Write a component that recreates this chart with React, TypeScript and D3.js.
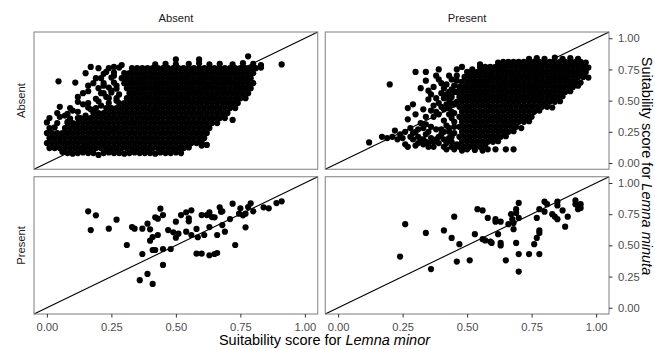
import React, { useEffect, useRef } from 'react';
import * as d3 from 'd3';

type Pt = [number, number];

// facet labels (columns across the top, rows down the left side)
const colLabels = ['Absent', 'Present'];
const rowLabels = ['Absent', 'Present'];
const scoreTicks = [0, 0.25, 0.5, 0.75, 1];

// [Lemna minor score, Lemna minuta score]
const absentAbsent: Pt[] = [
  [.06,.09],[.08,.08],[.10,.075],[.12,.08],[.14,.085],[.16,.08],[.18,.08],[.20,.065],[.22,.08],[.24,.085],[.26,.08],[.28,.08],[.30,.075],[.32,.08],[.34,.085],[.36,.08],[.38,.08],[.40,.08],[.42,.075],[.44,.085],[.46,.08],[.48,.08],[.50,.085],[.52,.08],
  [.01,.12],[.03,.12],[.05,.12],[.07,.12],[.09,.12],[.11,.12],[.13,.12],[.15,.12],[.17,.12],[.19,.12],[.21,.12],[.23,.12],[.25,.12],[.27,.12],[.29,.12],[.31,.12],[.33,.12],[.35,.12],[.37,.12],[.39,.12],[.41,.12],[.43,.12],[.45,.12],[.47,.12],[.49,.12],[.51,.12],[.53,.12],[.55,.125],[.60,.14],[.62,.145],
  [.00,.16],[.02,.16],[.04,.16],[.06,.16],[.08,.16],[.10,.16],[.12,.16],[.14,.16],[.16,.16],[.18,.16],[.20,.16],[.22,.16],[.24,.16],[.26,.16],[.28,.16],[.30,.16],[.32,.16],[.34,.16],[.36,.16],[.38,.16],[.40,.16],[.42,.16],[.44,.16],[.46,.16],[.48,.16],[.50,.16],[.52,.16],[.54,.16],[.56,.16],[.58,.16],[.60,.165],
  [.01,.20],[.03,.20],[.05,.20],[.07,.20],[.09,.20],[.11,.20],[.13,.20],[.15,.20],[.17,.20],[.19,.20],[.21,.20],[.23,.20],[.25,.20],[.27,.20],[.29,.20],[.31,.20],[.33,.20],[.35,.20],[.37,.20],[.39,.20],[.41,.20],[.43,.20],[.45,.20],[.47,.20],[.49,.20],[.51,.20],[.53,.20],[.55,.20],[.57,.20],[.59,.20],[.61,.20],
  [.00,.24],[.02,.24],[.04,.24],[.06,.24],[.08,.24],[.10,.24],[.12,.24],[.14,.24],[.16,.24],[.18,.24],[.20,.24],[.22,.24],[.24,.24],[.26,.24],[.28,.24],[.30,.24],[.32,.24],[.34,.24],[.36,.24],[.38,.24],[.40,.24],[.42,.24],[.44,.24],[.46,.24],[.48,.24],[.50,.24],[.52,.24],[.54,.24],[.56,.24],[.58,.24],[.60,.24],[.62,.24],
  [.01,.28],[.03,.285],[.07,.28],[.09,.28],[.11,.28],[.13,.28],[.15,.28],[.17,.28],[.19,.28],[.21,.28],[.23,.28],[.25,.28],[.27,.28],[.29,.28],[.31,.28],[.33,.28],[.35,.28],[.37,.28],[.39,.28],[.41,.28],[.43,.28],[.45,.28],[.47,.28],[.49,.28],[.51,.28],[.53,.28],[.55,.28],[.57,.28],[.59,.28],[.61,.28],[.63,.28],
  [.00,.325],[.04,.32],[.08,.32],[.10,.32],[.12,.32],[.14,.32],[.16,.32],[.18,.32],[.20,.32],[.22,.32],[.24,.32],[.26,.32],[.28,.32],[.30,.32],[.32,.32],[.34,.32],[.36,.32],[.38,.32],[.40,.32],[.42,.32],[.44,.32],[.46,.32],[.48,.32],[.50,.32],[.52,.32],[.54,.32],[.56,.32],[.58,.32],[.60,.32],[.62,.32],[.64,.32],[.66,.32],
  [.01,.36],[.05,.37],[.09,.355],[.13,.36],[.15,.36],[.17,.36],[.19,.36],[.21,.36],[.23,.36],[.25,.36],[.27,.36],[.29,.36],[.31,.36],[.33,.36],[.35,.36],[.37,.36],[.39,.36],[.41,.36],[.43,.36],[.45,.36],[.47,.36],[.49,.36],[.51,.36],[.53,.36],[.55,.36],[.57,.36],[.59,.36],[.61,.36],[.63,.36],[.65,.36],[.67,.36],[.69,.36],[.72,.345],
  [.04,.40],[.08,.395],[.12,.41],[.18,.40],[.20,.40],[.22,.40],[.24,.40],[.26,.40],[.28,.40],[.30,.40],[.32,.40],[.34,.40],[.36,.40],[.38,.40],[.40,.40],[.42,.40],[.44,.40],[.46,.40],[.48,.40],[.50,.40],[.52,.40],[.54,.40],[.56,.40],[.58,.40],[.60,.40],[.62,.40],[.64,.40],[.66,.40],[.68,.40],[.70,.40],
  [.05,.45],[.09,.44],[.16,.445],[.19,.44],[.23,.44],[.25,.44],[.27,.44],[.29,.44],[.31,.44],[.33,.44],[.35,.44],[.37,.44],[.39,.44],[.41,.44],[.43,.44],[.45,.44],[.47,.44],[.49,.44],[.51,.44],[.53,.44],[.55,.44],[.57,.44],[.59,.44],[.61,.44],[.63,.44],[.65,.44],[.67,.44],[.69,.44],[.71,.44],[.73,.44],
  [.12,.49],[.16,.48],[.20,.495],[.24,.48],[.28,.48],[.30,.48],[.32,.48],[.34,.48],[.36,.48],[.38,.48],[.40,.48],[.42,.48],[.44,.48],[.46,.48],[.48,.48],[.50,.48],[.52,.48],[.54,.48],[.56,.48],[.58,.48],[.60,.48],[.62,.48],[.64,.48],[.66,.48],[.68,.48],[.70,.48],[.72,.48],[.74,.48],
  [.12,.53],[.19,.515],[.23,.53],[.27,.52],[.31,.52],[.33,.52],[.35,.52],[.37,.52],[.39,.52],[.41,.52],[.43,.52],[.45,.52],[.47,.52],[.49,.52],[.51,.52],[.53,.52],[.55,.52],[.57,.52],[.59,.52],[.61,.52],[.63,.52],[.65,.52],[.67,.52],[.69,.52],[.71,.52],[.73,.52],[.75,.52],[.77,.52],
  [.16,.575],[.21,.56],[.25,.565],[.28,.55],[.32,.56],[.34,.56],[.36,.56],[.38,.56],[.40,.56],[.42,.56],[.44,.56],[.46,.56],[.48,.56],[.50,.56],[.52,.56],[.54,.56],[.56,.56],[.58,.56],[.60,.56],[.62,.56],[.64,.56],[.66,.56],[.68,.56],[.70,.56],[.72,.56],[.74,.56],[.76,.56],[.78,.56],
  [.16,.62],[.24,.605],[.27,.595],[.31,.60],[.33,.60],[.35,.60],[.37,.60],[.39,.60],[.41,.60],[.43,.60],[.45,.60],[.47,.60],[.49,.60],[.51,.60],[.53,.60],[.55,.60],[.57,.60],[.59,.60],[.61,.60],[.63,.60],[.65,.60],[.67,.60],[.69,.60],[.71,.60],[.73,.60],[.75,.60],[.77,.60],[.79,.60],
  [.11,.645],[.22,.64],[.26,.645],[.30,.64],[.32,.64],[.34,.64],[.36,.64],[.38,.64],[.40,.64],[.42,.64],[.44,.64],[.46,.64],[.48,.64],[.50,.64],[.52,.64],[.54,.64],[.56,.64],[.58,.64],[.60,.64],[.62,.64],[.64,.64],[.66,.64],[.68,.64],[.70,.64],[.72,.64],[.74,.64],[.76,.64],[.78,.64],[.80,.64],
  [.045,.655],[.21,.68],[.25,.685],[.29,.68],[.31,.68],[.33,.68],[.35,.68],[.37,.68],[.39,.68],[.41,.68],[.43,.68],[.45,.68],[.47,.68],[.49,.68],[.51,.68],[.53,.68],[.55,.68],[.57,.68],[.59,.68],[.61,.68],[.63,.68],[.65,.68],[.67,.68],[.69,.68],[.71,.68],[.73,.68],[.75,.68],[.77,.68],[.79,.68],
  [.15,.72],[.22,.715],[.26,.725],[.30,.72],[.32,.72],[.34,.72],[.36,.72],[.38,.72],[.40,.72],[.42,.72],[.44,.72],[.46,.72],[.48,.72],[.50,.72],[.52,.72],[.54,.72],[.56,.72],[.58,.72],[.60,.72],[.62,.72],[.64,.72],[.66,.72],[.68,.72],[.70,.72],[.72,.72],[.74,.72],[.76,.72],[.78,.72],[.80,.72],
  [.17,.77],[.24,.76],[.28,.765],[.33,.76],[.35,.76],[.37,.76],[.39,.76],[.41,.76],[.43,.76],[.45,.76],[.47,.76],[.49,.76],[.51,.76],[.53,.76],[.55,.76],[.57,.76],[.59,.76],[.61,.76],[.63,.76],[.65,.76],[.67,.76],[.69,.76],[.71,.76],[.73,.76],[.75,.76],[.77,.76],[.79,.76],[.81,.76],[.83,.765],
  [.42,.79],[.46,.795],[.50,.79],[.55,.795],[.59,.80],[.63,.79],[.67,.795],[.72,.79],[.76,.80],[.80,.795],[.83,.785],[.91,.79],
  [.50,.83],[.59,.83],[.78,.855],
  [.20,.60],[.22,.56],[.18,.64],[.26,.70],[.23,.73],[.20,.76],[.27,.50],[.14,.47],[.10,.42],[.07,.38],[.12,.36],[.17,.43],
  [.21,.46],[.25,.58],[.19,.68],[.27,.62],[.14,.56],[.08,.33],[.11,.30],[.15,.38],[.24,.52],[.26,.77],[.29,.785],[.22,.62],
];

const absentPresent: Pt[] = [
  [.12,.165],[.20,.63],[.17,.21],[.19,.20],[.21,.21],[.22,.26],[.23,.19],[.24,.23],[.26,.25],[.26,.15],[.27,.13],[.28,.21],[.27,.35],[.27,.44],[.28,.28],[.30,.25],[.31,.21],[.32,.19],[.31,.16],[.33,.15],[.34,.17],[.36,.20],[.37,.17],[.37,.13],[.39,.21],[.39,.16],[.41,.19],[.41,.13],[.34,.23],[.35,.25],[.34,.31],[.32,.32],[.34,.37],[.37,.37],[.38,.41],[.39,.39],[.37,.46],[.35,.51],[.39,.48],[.41,.43],[.43,.51],[.32,.60],[.34,.66],[.35,.58],[.37,.61],[.39,.67],[.40,.56],[.42,.63],[.44,.59],[.44,.67],[.30,.73],[.34,.73],[.39,.75],[.46,.75],[.48,.77],[.52,.75],[.55,.79],[.44,.36],[.45,.29],[.43,.25],[.45,.24],[.44,.17],[.50,.11],[.46,.15],[.58,.11],[.61,.11],[.65,.11],[.68,.11],[.43,.20],[.42,.30],[.41,.34],[.43,.44],[.42,.55],[.45,.40],[.44,.48],[.46,.66],
  [.45,.33],[.44,.41],[.45,.47],[.44,.53],[.45,.57],[.45,.62],[.46,.70],[.43,.39],[.42,.47],[.41,.52],[.43,.57],[.41,.60],[.40,.64],[.38,.70],[.43,.70],[.36,.55],[.38,.52],[.40,.45],[.36,.42],[.33,.43],[.30,.39],[.29,.47],
  [.29,.19],[.30,.14],[.33,.19],[.35,.16],[.38,.19],[.40,.23],[.42,.16],[.44,.13],[.38,.27],[.36,.29],[.40,.27],[.31,.27],[.25,.20],[.29,.24],[.33,.28],[.43,.28],[.41,.25],[.44,.21],[.35,.13],[.42,.11],[.45,.11],[.48,.10],[.53,.105],[.56,.10],
  [.47,.13],[.49,.13],[.51,.13],[.53,.13],[.55,.13],[.57,.135],
  [.48,.17],[.50,.17],[.52,.17],[.54,.17],[.56,.17],[.58,.17],[.60,.17],[.62,.175],
  [.47,.21],[.49,.21],[.51,.21],[.53,.21],[.55,.21],[.57,.21],[.59,.21],[.61,.21],[.63,.21],[.65,.215],
  [.48,.25],[.50,.25],[.52,.25],[.54,.25],[.56,.25],[.58,.25],[.60,.25],[.62,.25],[.64,.25],[.66,.25],[.68,.255],
  [.47,.29],[.49,.29],[.51,.29],[.53,.29],[.55,.29],[.57,.29],[.59,.29],[.61,.29],[.63,.29],[.65,.29],[.67,.29],[.69,.29],[.71,.28],
  [.48,.33],[.50,.33],[.52,.33],[.54,.33],[.56,.33],[.58,.33],[.60,.33],[.62,.33],[.64,.33],[.66,.33],[.68,.33],[.70,.33],[.72,.33],[.74,.335],
  [.47,.37],[.49,.37],[.51,.37],[.53,.37],[.55,.37],[.57,.37],[.59,.37],[.61,.37],[.63,.37],[.65,.37],[.67,.37],[.69,.37],[.71,.37],[.73,.37],[.75,.37],
  [.48,.41],[.50,.41],[.52,.41],[.54,.41],[.56,.41],[.58,.41],[.60,.41],[.62,.41],[.64,.41],[.66,.41],[.68,.41],[.70,.41],[.72,.41],[.74,.41],[.76,.41],[.78,.42],
  [.47,.45],[.49,.45],[.51,.45],[.53,.45],[.55,.45],[.57,.45],[.59,.45],[.61,.45],[.63,.45],[.65,.45],[.67,.45],[.69,.45],[.71,.45],[.73,.45],[.75,.45],[.77,.45],[.79,.45],[.81,.45],[.83,.445],
  [.46,.49],[.48,.49],[.50,.49],[.52,.49],[.54,.49],[.56,.49],[.58,.49],[.60,.49],[.62,.49],[.64,.49],[.66,.49],[.68,.49],[.70,.49],[.72,.49],[.74,.49],[.76,.49],[.78,.49],[.80,.49],[.82,.49],[.84,.49],[.86,.495],
  [.47,.53],[.49,.53],[.51,.53],[.53,.53],[.55,.53],[.57,.53],[.59,.53],[.61,.53],[.63,.53],[.65,.53],[.67,.53],[.69,.53],[.71,.53],[.73,.53],[.75,.53],[.77,.53],[.79,.53],[.81,.53],[.83,.53],[.85,.53],[.87,.535],
  [.46,.57],[.48,.57],[.50,.57],[.52,.57],[.54,.57],[.56,.57],[.58,.57],[.60,.57],[.62,.57],[.64,.57],[.66,.57],[.68,.57],[.70,.57],[.72,.57],[.74,.57],[.76,.57],[.78,.57],[.80,.57],[.82,.57],[.84,.57],[.86,.57],[.88,.57],[.90,.575],
  [.47,.61],[.49,.61],[.51,.61],[.53,.61],[.55,.61],[.57,.61],[.59,.61],[.61,.61],[.63,.61],[.65,.61],[.67,.61],[.69,.61],[.71,.61],[.73,.61],[.75,.61],[.77,.61],[.79,.61],[.81,.61],[.83,.61],[.85,.61],[.87,.61],[.89,.61],[.91,.61],[.93,.62],
  [.48,.65],[.50,.65],[.52,.65],[.54,.65],[.56,.65],[.58,.65],[.60,.65],[.62,.65],[.64,.65],[.66,.65],[.68,.65],[.70,.65],[.72,.65],[.74,.65],[.76,.65],[.78,.65],[.80,.65],[.82,.65],[.84,.65],[.86,.65],[.88,.65],[.90,.65],[.92,.65],[.94,.645],
  [.49,.69],[.51,.69],[.53,.69],[.55,.69],[.57,.69],[.59,.69],[.61,.69],[.63,.69],[.65,.69],[.67,.69],[.69,.69],[.71,.69],[.73,.69],[.75,.69],[.77,.69],[.79,.69],[.81,.69],[.83,.69],[.85,.69],[.87,.69],[.89,.69],[.91,.69],[.93,.69],[.95,.69],[.97,.685],
  [.50,.73],[.52,.73],[.54,.73],[.56,.73],[.58,.73],[.60,.73],[.62,.73],[.64,.73],[.66,.73],[.68,.73],[.70,.73],[.72,.73],[.74,.73],[.76,.73],[.78,.73],[.80,.73],[.82,.73],[.84,.73],[.86,.73],[.88,.73],[.90,.73],[.92,.73],[.94,.73],[.96,.73],
  [.55,.77],[.57,.77],[.59,.77],[.61,.77],[.63,.77],[.65,.77],[.67,.77],[.69,.77],[.71,.77],[.73,.77],[.75,.77],[.77,.77],[.79,.77],[.81,.77],[.83,.77],[.85,.77],[.87,.77],[.89,.77],[.91,.77],[.93,.77],[.95,.77],[.97,.765],
  [.62,.805],[.64,.81],[.66,.81],[.68,.81],[.70,.81],[.72,.81],[.74,.81],[.76,.81],[.78,.81],[.80,.81],[.82,.81],[.84,.81],[.86,.81],[.88,.81],[.90,.81],[.92,.81],[.94,.81],[.96,.805],
  [.74,.835],[.77,.84],[.80,.835],[.84,.845],[.87,.835],[.90,.84],[.93,.835],
];

const presentAbsent: Pt[] = [
  [.16,.773],[.19,.741],[.17,.623],[.24,.634],[.27,.706],[.31,.503],[.33,.647],[.34,.634],[.37,.634],[.37,.431],
  [.36,.221],[.39,.674],[.39,.271],[.40,.629],[.40,.538],[.41,.567],[.41,.191],[.41,.463],[.42,.463],[.43,.583],
  [.42,.725],[.43,.714],[.44,.794],[.45,.743],[.45,.471],[.45,.343],[.47,.623],[.48,.471],[.49,.605],[.50,.69],
  [.50,.562],[.51,.594],[.52,.743],[.54,.765],[.54,.61],[.55,.717],[.55,.693],[.56,.781],[.56,.583],[.58,.632],
  [.58,.434],[.585,.565],[.60,.434],[.60,.743],[.61,.583],[.62,.743],[.63,.765],[.63,.647],[.64,.727],[.65,.725],
  [.63,.421],[.65,.431],[.66,.439],[.66,.583],[.67,.805],[.675,.77],[.68,.773],[.68,.663],[.69,.61],[.71,.711],
  [.72,.834],[.73,.503],[.745,.754],[.75,.797],[.76,.741],[.77,.754],[.77,.645],[.78,.807],[.79,.837],[.80,.773],
  [.84,.805],[.86,.797],[.89,.839],[.91,.853],
];

const presentPresent: Pt[] = [
  [.24,.41],[.26,.67],[.34,.60],[.36,.31],[.41,.62],[.44,.56],[.45,.73],[.46,.37],[.47,.51],[.51,.38],
  [.53,.59],[.54,.79],[.56,.78],[.56,.55],[.57,.54],[.58,.72],[.59,.53],[.595,.52],[.61,.71],[.61,.69],
  [.62,.59],[.63,.69],[.63,.52],[.63,.50],[.65,.38],[.66,.67],[.67,.75],[.675,.71],[.68,.68],[.68,.63],
  [.69,.52],[.69,.79],[.70,.72],[.70,.84],[.70,.43],[.70,.29],[.74,.43],[.76,.51],[.77,.56],[.77,.72],
  [.78,.79],[.78,.60],[.78,.43],[.78,.62],[.80,.77],[.80,.85],[.81,.83],[.83,.75],[.84,.73],[.85,.85],
  [.85,.82],[.85,.71],[.87,.78],[.88,.65],[.89,.73],[.92,.83],[.92,.86],[.93,.82],[.94,.80],[.94,.83],
  [.93,.79],[.69,.76],
];

const panels = [
  { row: 0, col: 0, pts: absentAbsent },
  { row: 0, col: 1, pts: absentPresent },
  { row: 1, col: 0, pts: presentAbsent },
  { row: 1, col: 1, pts: presentPresent },
];

const App = () => {
  const ref = useRef<SVGSVGElement>(null);

  useEffect(() => {
    if (!ref.current) return;
    const svg = d3.select(ref.current);
    svg.selectAll('*').remove();

    const W = 655, H = 349;
    const margin = { top: 32, right: 46, bottom: 35, left: 34 };
    const gap = 7.5;
    const pw = (W - margin.left - margin.right - gap) / 2;
    const ph = (H - margin.top - margin.bottom - gap) / 2;

    const x = d3.scaleLinear().domain([-0.05, 1.05]).range([0, pw]);
    const y = d3.scaleLinear().domain([-0.05, 1.05]).range([ph, 0]);
    const fmt = d3.format('.2f');

    panels.forEach(p => {
      const g = svg.append('g')
        .attr('transform', `translate(${margin.left + p.col * (pw + gap)},${margin.top + p.row * (ph + gap)})`);

      g.selectAll('circle')
        .data(p.pts)
        .enter().append('circle')
        .attr('cx', d => x(d[0]))
        .attr('cy', d => y(d[1]))
        .attr('r', 3.1)
        .attr('fill', '#000');

      g.append('line')
        .attr('x1', x(-0.05)).attr('y1', y(-0.05))
        .attr('x2', x(1.05)).attr('y2', y(1.05))
        .attr('stroke', '#000')
        .attr('stroke-width', 1.1);

      g.append('rect')
        .attr('width', pw).attr('height', ph)
        .attr('fill', 'none')
        .attr('stroke', '#7f7f7f')
        .attr('stroke-width', 1);

      if (p.row === 1) {
        const ax = g.append('g')
          .attr('transform', `translate(0,${ph})`)
          .call(d3.axisBottom(x).tickValues(scoreTicks).tickFormat(d => fmt(d as number)).tickSize(3.5).tickPadding(6));
        ax.select('.domain').remove();
        ax.selectAll('line').attr('stroke', '#333');
        ax.selectAll('text').attr('font-size', 11.2).attr('fill', '#4d4d4d').attr('font-family', 'Liberation Sans, Arial, sans-serif');
      }
      if (p.col === 1) {
        const ay = g.append('g')
          .attr('transform', `translate(${pw},0)`)
          .call(d3.axisRight(y).tickValues(scoreTicks).tickFormat(d => fmt(d as number)).tickSize(3.5).tickPadding(5.5));
        ay.select('.domain').remove();
        ay.selectAll('line').attr('stroke', '#333');
        ay.selectAll('text').attr('font-size', 11.2).attr('fill', '#4d4d4d').attr('font-family', 'Liberation Sans, Arial, sans-serif');
      }
    });

    // facet strips
    colLabels.forEach((lab, i) => {
      svg.append('text')
        .attr('x', margin.left + i * (pw + gap) + pw / 2)
        .attr('y', 22)
        .attr('text-anchor', 'middle')
        .attr('font-size', 11.2)
        .attr('fill', '#1a1a1a')
        .text(lab);
    });
    rowLabels.forEach((lab, i) => {
      svg.append('text')
        .attr('transform', `translate(25,${margin.top + i * (ph + gap) + ph / 2}) rotate(-90)`)
        .attr('text-anchor', 'middle')
        .attr('font-size', 11.2)
        .attr('fill', '#1a1a1a')
        .text(lab);
    });

    // axis titles
    const xt = svg.append('text')
      .attr('x', 324.5)
      .attr('y', 345)
      .attr('text-anchor', 'middle')
      .attr('font-size', 14.5)
      .attr('fill', '#000');
    xt.append('tspan').text('Suitability score for ');
    xt.append('tspan').attr('font-style', 'italic').text('Lemna minor');

    const yt = svg.append('text')
      .attr('transform', `translate(642,166) rotate(90)`)
      .attr('text-anchor', 'middle')
      .attr('font-size', 14.5)
      .attr('fill', '#000');
    yt.append('tspan').text('Suitability score for ');
    yt.append('tspan').attr('font-style', 'italic').text('Lemna minuta');
  }, []);

  return (
    <svg
      ref={ref}
      width={655}
      height={349}
      style={{ position: 'absolute', left: 0, top: 0, background: '#fff' }}
      fontFamily="Liberation Sans, Arial, sans-serif"
    />
  );
};

export default App;
